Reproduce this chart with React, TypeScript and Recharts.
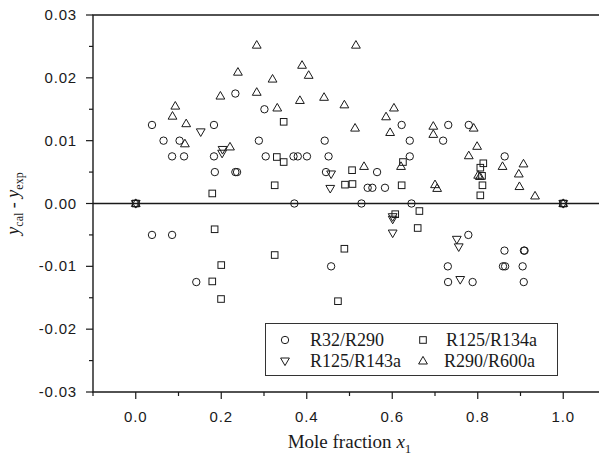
import React from "react";
import {
  ScatterChart,
  Scatter,
  XAxis,
  YAxis,
  ReferenceLine,
  ReferenceArea,
} from "recharts";

// mole fraction x1 and deviation y_cal - y_exp for each mixture
const R32_X = [0, 1, 0.038, 0.065, 0.1025, 0.085, 0.113, 0.183, 0.183, 0.185, 0.233, 0.233, 0.237, 0.288, 0.301, 0.304, 0.369, 0.379, 0.4005, 0.442, 0.451, 0.445, 0.5645, 0.5425, 0.5535, 0.583, 0.622, 0.641, 0.641, 0.719, 0.731, 0.779, 0.863, 0.371, 0.528, 0.645, 0.038, 0.085, 0.1416, 0.457, 0.778, 0.73, 0.7306, 0.788, 0.8625, 0.908, 0.9095, 0.859, 0.864, 0.905, 0.9076];
const R32_Y = [0, 0, 0.0125, 0.01, 0.01, 0.0075, 0.0075, 0.0125, 0.0075, 0.005, 0.0175, 0.005, 0.005, 0.01, 0.015, 0.0075, 0.0075, 0.0075, 0.0075, 0.01, 0.0075, 0.005, 0.005, 0.0025, 0.0025, 0.0025, 0.0125, 0.01, 0.0075, 0.01, 0.0125, 0.0125, 0.0075, 0, 0, 0, -0.005, -0.005, -0.0125, -0.01, -0.005, -0.01, -0.0125, -0.0125, -0.0075, -0.0075, -0.0075, -0.01, -0.01, -0.01, -0.0125];

const R134_X = [0, 1, 0.179, 0.346, 0.33, 0.346, 0.325, 0.506, 0.4895, 0.507, 0.622, 0.625, 0.813, 0.806, 0.81, 0.811, 0.806, 0.1845, 0.2, 0.179, 0.1995, 0.6635, 0.607, 0.6595, 0.488, 0.325, 0.473];
const R134_Y = [0, 0, 0.0016, 0.013, 0.0074, 0.0066, 0.0029, 0.0053, 0.003, 0.0031, 0.0029, 0.0066, 0.0064, 0.0057, 0.0044, 0.0029, 0.0013, -0.0041, -0.0098, -0.0124, -0.0152, -0.0012, -0.0017, -0.0039, -0.0072, -0.0082, -0.01555];

const R143_X = [0, 1, 0.152, 0.203, 0.202, 0.457, 0.455, 0.601, 0.601, 0.601, 0.751, 0.7555, 0.759];
const R143_Y = [0, 0, 0.0114, 0.0086, 0.008, 0.0047, 0.0024, -0.0021, -0.0025, -0.0047, -0.0057, -0.0069, -0.0121];

const R600_X = [0, 1, 0.0925, 0.086, 0.118, 0.115, 0.198, 0.2205, 0.239, 0.283, 0.283, 0.331, 0.32, 0.389, 0.4045, 0.384, 0.4405, 0.488, 0.515, 0.513, 0.534, 0.5855, 0.604, 0.595, 0.6205, 0.696, 0.696, 0.7, 0.705, 0.7905, 0.7985, 0.779, 0.858, 0.907, 0.801, 0.805, 0.896, 0.8975, 0.934];
const R600_Y = [0, 0, 0.0155, 0.0139, 0.0127, 0.0095, 0.0171, 0.009, 0.0209, 0.0252, 0.0177, 0.0152, 0.0198, 0.022, 0.0204, 0.0164, 0.0169, 0.0157, 0.0252, 0.012, 0.0059, 0.0138, 0.0152, 0.0113, 0.0059, 0.0123, 0.011, 0.003, 0.0024, 0.012, 0.0091, 0.0076, 0.0059, 0.0063, 0.0045, 0.0043, 0.0047, 0.0027, 0.0012];

const X_TICKS = [-0.1, 0, 0.1, 0.2, 0.3, 0.4, 0.5, 0.6, 0.7, 0.8, 0.9, 1.0, 1.1];
const Y_TICKS = [-0.03, -0.025, -0.02, -0.015, -0.01, -0.005, 0, 0.005, 0.01, 0.015, 0.02, 0.025, 0.03];

const zip = (xs: number[], ys: number[]) => xs.map((x, i) => ({ x, y: ys[i] }));

const INK = "#1a1a1a";
const SANS = "'Liberation Sans', Arial, sans-serif";
const SERIF = "'Liberation Serif', 'Times New Roman', serif";

const Circle = ({ cx, cy }: any) => (
  <circle cx={cx} cy={cy} r={3.7} fill="none" stroke={INK} strokeWidth={1} />
);
const Square = ({ cx, cy }: any) => (
  <rect x={cx - 3.3} y={cy - 3.3} width={6.6} height={6.6} fill="none" stroke={INK} strokeWidth={1} />
);
const TriUp = ({ cx, cy }: any) => (
  <polygon points={`${cx},${cy - 4.6} ${cx - 4.4},${cy + 3} ${cx + 4.4},${cy + 3}`} fill="none" stroke={INK} strokeWidth={1} />
);
const TriDown = ({ cx, cy }: any) => (
  <polygon points={`${cx},${cy + 4.6} ${cx - 4.4},${cy - 3} ${cx + 4.4},${cy - 3}`} fill="none" stroke={INK} strokeWidth={1} />
);

const SERIES = [
  { name: "R32/R290", data: zip(R32_X, R32_Y), Shape: Circle },
  { name: "R125/R134a", data: zip(R134_X, R134_Y), Shape: Square },
  { name: "R125/R143a", data: zip(R143_X, R143_Y), Shape: TriDown },
  { name: "R290/R600a", data: zip(R600_X, R600_Y), Shape: TriUp },
];

const isMajorX = (v: number) => Math.abs(v * 5 - Math.round(v * 5)) < 1e-6;
const isMajorY = (v: number) => Math.abs(v * 100 - Math.round(v * 100)) < 1e-6;

const XTick = ({ x, y, payload }: any) => {
  const major = isMajorX(payload.value);
  return (
    <g>
      <line x1={x} x2={x} y1={y} y2={y + (major ? 7 : 4)} stroke={INK} strokeWidth={1.2} />
      {major && (
        <text x={x} y={y + 30} textAnchor="middle" fontFamily={SANS} fontSize={15} letterSpacing={0.8} fill={INK}>
          {payload.value.toFixed(1)}
        </text>
      )}
    </g>
  );
};

const YTick = ({ x, y, payload }: any) => {
  const major = isMajorY(payload.value);
  return (
    <g>
      <line x1={x - (major ? 7 : 4)} x2={x} y1={y} y2={y} stroke={INK} strokeWidth={1.2} />
      {major && (
        <text x={x - 16} y={y + 5} textAnchor="end" fontFamily={SANS} fontSize={15} letterSpacing={0.8} fill={INK}>
          {payload.value.toFixed(2)}
        </text>
      )}
    </g>
  );
};

const XTitle = ({ viewBox }: any) => {
  const cx = viewBox.x + viewBox.width / 2;
  return (
    <text x={cx} y={448} textAnchor="middle" fontFamily={SERIF} fontSize={19} fill={INK}>
      Mole fraction <tspan fontStyle="italic">x</tspan>
      <tspan fontSize={13} dy={5}>1</tspan>
    </text>
  );
};

const YTitle = ({ viewBox }: any) => {
  const cy = viewBox.y + viewBox.height / 2;
  return (
    <text x={19} y={cy} transform={`rotate(-90, 19, ${cy})`} textAnchor="middle" fontFamily={SERIF} fontSize={18} fill={INK}>
      <tspan fontStyle="italic">y</tspan>
      <tspan fontSize={12} dy={4}>cal</tspan>
      <tspan dy={-4}> - </tspan>
      <tspan fontStyle="italic">y</tspan>
      <tspan fontSize={12} dy={4}>exp</tspan>
    </text>
  );
};

const LegendBox = () => {
  const slots = [
    { mx: 20, my: 17, tx: 45 },
    { mx: 158, my: 17, tx: 181 },
    { mx: 20, my: 38, tx: 45 },
    { mx: 158, my: 38, tx: 179 },
  ];
  return (
    <svg width={293} height={53} style={{ position: "absolute", left: 265, top: 323 }}>
      <rect x={0.5} y={0.5} width={292} height={52} fill="#fff" stroke="#333" strokeWidth={1} />
      {SERIES.map((s, i) => {
        const p = slots[i];
        const Shape = s.Shape;
        return (
          <g key={s.name}>
            <Shape cx={p.mx} cy={p.my} />
            <text x={p.tx} y={p.my + 6} fontFamily={SERIF} fontSize={18} fill={INK}>
              {s.name}
            </text>
          </g>
        );
      })}
    </svg>
  );
};

export default function App() {
  return (
    <div style={{ position: "fixed", left: 0, top: 0, width: 599, height: 457, overflow: "hidden", background: "#fff" }}>
      <ScatterChart width={620} height={457} margin={{ top: 15, right: 14, bottom: 0, left: 0 }}>
        <XAxis
          type="number"
          dataKey="x"
          domain={[-0.1, 1.1]}
          ticks={X_TICKS}
          interval={0}
          height={65}
          axisLine={false}
          tickLine={false}
          tickSize={0}
          tickMargin={0}
          tick={<XTick />}
          label={<XTitle />}
        />
        <YAxis
          type="number"
          dataKey="y"
          domain={[-0.03, 0.03]}
          ticks={Y_TICKS}
          interval={0}
          width={93}
          axisLine={false}
          tickLine={false}
          tickSize={0}
          tickMargin={0}
          tick={<YTick />}
          label={<YTitle />}
        />
        <ReferenceArea x1={-0.1} x2={1.1} y1={-0.03} y2={0.03} fill="none" stroke={INK} strokeWidth={1.4} fillOpacity={0} />
        <ReferenceLine y={0} stroke={INK} strokeWidth={1.4} />
        {SERIES.map((s) => (
          <Scatter
            key={s.name}
            name={s.name}
            data={s.data}
            isAnimationActive={false}
            shape={(props: any) => <s.Shape cx={props.cx} cy={props.cy} />}
          />
        ))}
      </ScatterChart>
      <LegendBox />
    </div>
  );
}
